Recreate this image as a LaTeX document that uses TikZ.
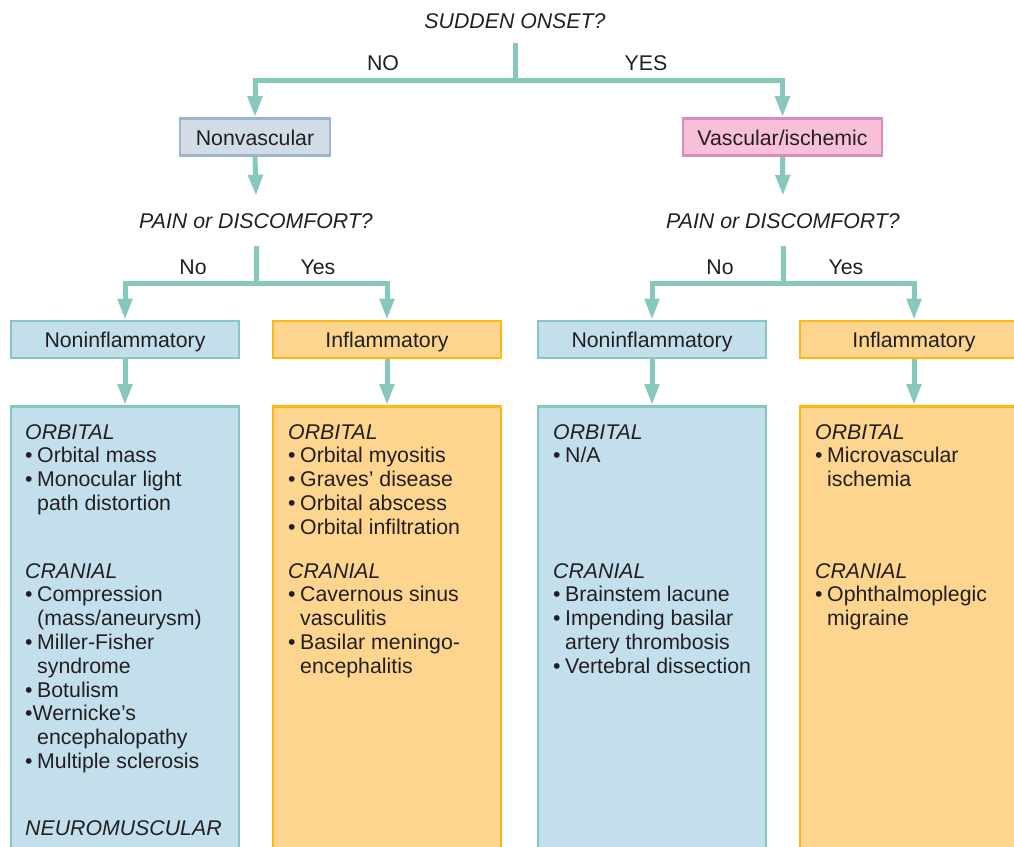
\documentclass[tikz,border=0pt]{standalone}
\usepackage{fontspec}
\setmainfont{Liberation Sans}
\usetikzlibrary{arrows.meta}

\definecolor{linkc}{HTML}{86C8BB}
\definecolor{bluefill}{HTML}{C4DFEC}
\definecolor{orangefill}{HTML}{FDD58E}
\definecolor{orangeline}{HTML}{FDB813}
\definecolor{nvfill}{HTML}{D1DCE7}
\definecolor{nvline}{HTML}{9EB4CB}
\definecolor{vafill}{HTML}{F7BFD8}
\definecolor{valine}{HTML}{D78CBE}
\definecolor{ink}{HTML}{231F20}

\newcommand\diafont{\fontsize{21.3}{23.8}\selectfont}
% one bulleted entry with a hanging indent for its wrapped lines
\newcommand\itm[1]{\par\hangindent=12pt\hangafter=1\noindent\makebox[12pt][l]{•}#1}
% a titled section of a list box
\newcommand\sect[2]{\parbox[t]{220pt}{\diafont\raggedright\noindent\textit{#1}#2}}

\tikzset{
  qtext/.style={inner sep=0pt, font=\diafont, text=ink},
  lbl/.style={inner sep=0pt, font=\diafont, text=ink, anchor=base},
  box/.style={draw, line width=2.6pt, inner sep=0pt, text height=16pt, text depth=0pt,
              font=\diafont, text=ink, minimum height=37pt},
  bigbox/.style={draw, line width=2.6pt, inner sep=0pt, minimum width=228pt,
                 minimum height=520pt, anchor=north},
  listtext/.style={inner sep=0pt, anchor=base west, text=ink},
  conn/.style={draw=linkc, line width=5pt},
  arr/.style={conn, -{Triangle[width=14pt,length=21pt]}},
}

\begin{document}
\begin{tikzpicture}[x=1pt,y=-1pt]
\useasboundingbox (0,0) rectangle (1014,846);
\clip (0,0) rectangle (1014,846);

% ---- first question ----
\node[qtext, minimum height=43pt] (q1) at (515,21.5) {\textit{SUDDEN ONSET?}};
\coordinate (j1) at (515,80);
\node[box, fill=nvfill, draw=nvline, minimum width=150pt] (nv) at (255,137) {Nonvascular};
\node[box, fill=vafill, draw=valine, minimum width=199pt] (va) at (782.5,137) {Vascular/ischemic};
\node[lbl] (no1) at (383,70) {NO};
\node[lbl] (yes1) at (646,70) {YES};
\draw[conn] (q1.south) -- (j1);
\draw[arr] (j1) -| (nv.north);
\draw[arr] (j1) -| (va.north);

% ---- second questions ----
\node[qtext, minimum height=50pt] (q2l) at (256,221) {\textit{PAIN or DISCOMFORT?}};
\node[qtext, minimum height=50pt] (q2r) at (783,221) {\textit{PAIN or DISCOMFORT?}};
\draw[arr] (nv.south) -- (q2l.north);
\draw[arr] (va.south) -- (q2r.north);
\coordinate (j2l) at (256,283);
\coordinate (j2r) at (783,283);
\node[lbl] (no2l) at (193,274) {No};
\node[lbl] (yes2l) at (318,274) {Yes};
\node[lbl] (no2r) at (720,274) {No};
\node[lbl] (yes2r) at (846,274) {Yes};

% ---- category boxes ----
\node[box, fill=bluefill, draw=linkc, minimum width=228pt] (n1) at (125,339.5) {Noninflammatory};
\node[box, fill=orangefill, draw=orangeline, minimum width=228pt] (i1) at (387,339.5) {Inflammatory};
\node[box, fill=bluefill, draw=linkc, minimum width=228pt] (n2) at (652,339.5) {Noninflammatory};
\node[box, fill=orangefill, draw=orangeline, minimum width=228pt] (i2) at (914,339.5) {Inflammatory};

\draw[conn] (q2l.south) -- (j2l);
\draw[conn] (q2r.south) -- (j2r);
\draw[arr] (j2l) -| (n1.north);
\draw[arr] (j2l) -| (i1.north);
\draw[arr] (j2r) -| (n2.north);
\draw[arr] (j2r) -| (i2.north);

% ---- list boxes ----
\node[bigbox, fill=bluefill, draw=linkc] (b1) at (125,405) {};
\node[bigbox, fill=orangefill, draw=orangeline] (b2) at (387,405) {};
\node[bigbox, fill=bluefill, draw=linkc] (b3) at (652,405) {};
\node[bigbox, fill=orangefill, draw=orangeline] (b4) at (914,405) {};
\draw[arr] (n1.south) -- (b1.north);
\draw[arr] (i1.south) -- (b2.north);
\draw[arr] (n2.south) -- (b3.north);
\draw[arr] (i2.south) -- (b4.north);

% box 1: nonvascular, noninflammatory
\node[listtext] (t1o) at (25,439) {\sect{ORBITAL}{%
  \itm{Orbital mass}%
  \itm{Monocular light\newline path distortion}}};
\node[listtext] (t1c) at (25,578) {\sect{CRANIAL}{%
  \itm{Compression\newline (mass/aneurysm)}%
  \itm{Miller-Fisher\newline syndrome}%
  \itm{Botulism}%
  \par\hangindent=12pt\hangafter=1\noindent •Wernicke’s\newline encephalopathy%
  \itm{Multiple sclerosis}}};
\node[listtext] (t1n) at (25,835) {\sect{NEUROMUSCULAR}{}};

% box 2: nonvascular, inflammatory
\node[listtext] (t2o) at (288,439) {\sect{ORBITAL}{%
  \itm{Orbital myositis}%
  \itm{Graves’ disease}%
  \itm{Orbital abscess}%
  \itm{Orbital infiltration}}};
\node[listtext] (t2c) at (288,578) {\sect{CRANIAL}{%
  \itm{Cavernous sinus\newline vasculitis}%
  \itm{Basilar meningo-\newline encephalitis}}};

% box 3: vascular, noninflammatory
\node[listtext] (t3o) at (553,439) {\sect{ORBITAL}{%
  \itm{N/A}}};
\node[listtext] (t3c) at (553,578) {\sect{CRANIAL}{%
  \itm{Brainstem lacune}%
  \itm{Impending basilar\newline artery thrombosis}%
  \itm{Vertebral dissection}}};

% box 4: vascular, inflammatory
\node[listtext] (t4o) at (815,439) {\sect{ORBITAL}{%
  \itm{Microvascular\newline ischemia}}};
\node[listtext] (t4c) at (815,578) {\sect{CRANIAL}{%
  \itm{Ophthalmoplegic\newline migraine}}};
\end{tikzpicture}
\end{document}
